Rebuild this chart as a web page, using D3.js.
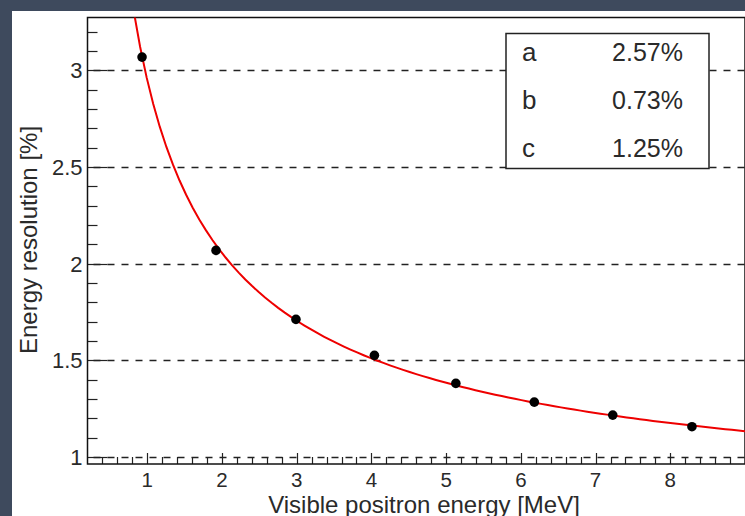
<!DOCTYPE html>
<html>
<head>
<meta charset="utf-8">
<script src="https://cdnjs.cloudflare.com/ajax/libs/d3/7.8.5/d3.min.js"></script>
<style>
  body { margin: 0; padding: 0; background: #3e4a5d; }
  svg { display: block; }
  text { font-family: "Liberation Sans", Arial, sans-serif; fill: #2a2a2a; }
</style>
</head>
<body>
<div id="chart"></div>
<script>
// measured points
var energy = [0.93, 1.92, 2.99, 4.04, 5.13, 6.18, 7.23, 8.29];
var resolution = [3.069, 2.069, 1.712, 1.526, 1.381, 1.284, 1.217, 1.157];

// fit parameters (percent)
var paramNames = ["a", "b", "c"];
var paramValues = [2.57, 0.73, 1.25];

var xTicks = [1, 2, 3, 4, 5, 6, 7, 8];
var yTicks = [1, 1.5, 2, 2.5, 3];

var W = 745, H = 516;
// note: "top" is taken by window.top, so plotX names
var plotL = 87.5, plotR = 745, plotT = 17.5, plotB = 464;

var svg = d3.select("#chart").append("svg")
	.attr("width", W)
	.attr("height", H);

// slate frame + white canvas
svg.append("rect").attr("width", W).attr("height", H).attr("fill", "#3e4a5d");
svg.append("rect").attr("x", 12).attr("y", 11).attr("width", W - 12).attr("height", H - 11).attr("fill", "#fff");

var x = d3.scaleLinear().domain([0.2, 9.0]).range([plotL, plotR]);
var y = d3.scaleLinear().domain([0.964, 3.274]).range([plotB, plotT]);

var g = svg.append("g");

// dashed grid at major y values
g.selectAll(".grid")
	.data(yTicks)
	.enter()
	.append("line")
	.attr("class", "grid")
	.attr("x1", plotL)
	.attr("x2", plotR)
	.attr("y1", function(d){ return Math.round(y(d)) + 0.5; })
	.attr("y2", function(d){ return Math.round(y(d)) + 0.5; })
	.attr("stroke", "#222")
	.attr("stroke-width", 1.4)
	.attr("stroke-dasharray", "7,7")
	.attr("stroke-dashoffset", -6);

// y ticks (minor every 0.1, major every 0.5)
var yMinor = d3.range(10, 33).map(function(d){ return d / 10; });
g.selectAll(".ytick")
	.data(yMinor)
	.enter()
	.append("line")
	.attr("x1", plotL)
	.attr("x2", function(d){ return plotL + (Math.abs(d * 2 - Math.round(d * 2)) < 1e-6 ? 20 : 10); })
	.attr("y1", function(d){ return Math.round(y(d)) + 0.5; })
	.attr("y2", function(d){ return Math.round(y(d)) + 0.5; })
	.attr("stroke", "#222")
	.attr("stroke-width", 1.2);

// x ticks (minor every 0.2, major every 1)
var xMinor = d3.range(2, 45).map(function(d){ return d / 5; });
g.selectAll(".xtick")
	.data(xMinor)
	.enter()
	.append("line")
	.attr("x1", function(d){ return Math.round(x(d)) + 0.5; })
	.attr("x2", function(d){ return Math.round(x(d)) + 0.5; })
	.attr("y1", plotB)
	.attr("y2", function(d){ return plotB - (Math.abs(d - Math.round(d)) < 1e-6 ? 11 : 7); })
	.attr("stroke", "#222")
	.attr("stroke-width", 1.2);

// frame
g.append("rect")
	.attr("x", plotL)
	.attr("y", plotT)
	.attr("width", plotR - plotL)
	.attr("height", plotB - plotT)
	.attr("fill", "none")
	.attr("stroke", "#111")
	.attr("stroke-width", 1.5);

// tick labels
g.selectAll(".ylab")
	.data(yTicks)
	.enter()
	.append("text")
	.attr("x", plotL - 5)
	.attr("y", function(d){ return y(d); })
	.attr("dy", "0.36em")
	.attr("text-anchor", "end")
	.attr("font-size", 22)
	.text(function(d){ return d; });

g.selectAll(".xlab")
	.data(xTicks)
	.enter()
	.append("text")
	.attr("x", function(d){ return x(d); })
	.attr("y", 486.5)
	.attr("text-anchor", "middle")
	.attr("font-size", 20.5)
	.text(function(d){ return d; });

// axis titles
svg.append("text")
	.attr("x", 424)
	.attr("y", 512.5)
	.attr("text-anchor", "middle")
	.attr("font-size", 24)
	.text("Visible positron energy [MeV]");

svg.append("text")
	.attr("transform", "translate(37,240) rotate(-90)")
	.attr("text-anchor", "middle")
	.attr("font-size", 24)
	.text("Energy resolution [%]");

// fit curve sampled like ROOT's TF1 (100 points over the axis range)
var a = paramValues[0], b = paramValues[1], c = paramValues[2];
var fit = function(e){ return Math.sqrt(a * a / e + b * b + c * c / (e * e)); };
var fitPts = d3.range(0, 101).map(function(i){ var e = 0.2 + i * (8.8 / 100); return [e, fit(e)]; });

svg.append("clipPath").attr("id", "clip")
	.append("rect").attr("x", plotL).attr("y", plotT).attr("width", plotR - plotL).attr("height", plotB - plotT);

g.append("path")
	.datum(fitPts)
	.attr("clip-path", "url(#clip)")
	.attr("fill", "none")
	.attr("stroke", "#ee0000")
	.attr("stroke-width", 2)
	.attr("d", d3.line()
		.x(function(d){ return x(d[0]); })
		.y(function(d){ return y(Math.min(d[1], 4)); }));

// data points
g.selectAll(".pt")
	.data(energy)
	.enter()
	.append("circle")
	.attr("cx", function(d){ return x(d); })
	.attr("cy", function(d, i){ return y(resolution[i]); })
	.attr("r", 4.8)
	.attr("fill", "#000");

// parameter box
var box = svg.append("g").attr("transform", "translate(506,33.5)");
box.append("rect")
	.attr("width", 203)
	.attr("height", 135)
	.attr("fill", "#fff")
	.attr("stroke", "#222")
	.attr("stroke-width", 1.5);
box.selectAll(".pname")
	.data(paramNames)
	.enter()
	.append("text")
	.attr("x", 16)
	.attr("y", function(d, i){ return 27 + i * 48; })
	.attr("font-size", 26)
	.text(function(d){ return d; });
box.selectAll(".pval")
	.data(paramValues)
	.enter()
	.append("text")
	.attr("x", 177)
	.attr("y", function(d, i){ return 27 + i * 48; })
	.attr("text-anchor", "end")
	.attr("font-size", 25)
	.text(function(d){ return d.toFixed(2) + "%"; });
</script>
</body>
</html>
